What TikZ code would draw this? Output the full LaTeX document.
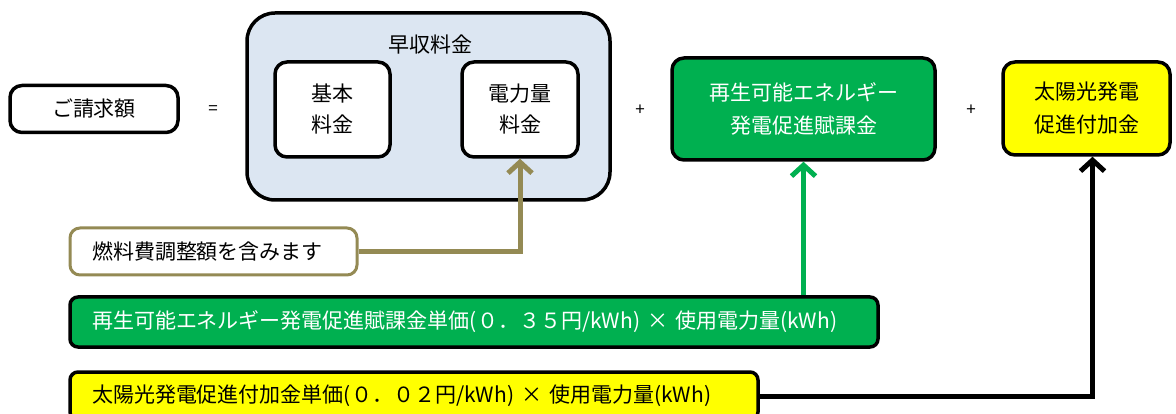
\documentclass[tikz,border=0pt]{standalone}
\usepackage{fontspec}
\setmainfont{Noto Sans CJK JP}
\usetikzlibrary{arrows.meta}
\definecolor{boxblue}{HTML}{DCE6F2}
\definecolor{ggreen}{HTML}{00B050}
\definecolor{olivec}{HTML}{948A54}
\definecolor{yel}{HTML}{FFFF00}
\tikzset{
  x=1pt, y=-1pt,
  box/.style={draw=black, line width=3.5pt, rounded corners=12pt, align=center, inner sep=0pt, fill=white},
  lbl/.style={font=\fontsize{21}{31}\selectfont},
  op/.style={font=\fontsize{17}{17}\selectfont, inner sep=0pt},
  bar/.style={draw=black, line width=3.5pt, rounded corners=8pt, inner xsep=22pt, inner ysep=0pt, align=left, font=\fontsize{21}{22}\selectfont},
  conn/.style={line width=5pt, -{Straight Barb[length=11pt,width=24pt,line width=5pt]}},
}
\begin{document}
\begin{tikzpicture}
\useasboundingbox (0,0) rectangle (1176,414);
\clip (0,0) rectangle (1176,414);
% left
\node[box, lbl, minimum width=168pt, minimum height=47pt] (bill) at (94,109) {ご請求額};
\node[op] (eq) at (213,110) {=};
% big group
\node[box, fill=boxblue, rounded corners=28pt, minimum width=363pt, minimum height=187pt] (group) at (428.5,106.5) {};
\node[lbl, inner sep=0pt] (title) at (430,45) {早収料金};
\node[box, lbl, minimum width=115pt, minimum height=95pt] (kihon) at (332.5,109.5) {基本\\料金};
\node[box, lbl, minimum width=116pt, minimum height=95pt] (denryoku) at (520,109.5) {電力量\\料金};
\node[op] (plus1) at (640,110) {+};
\node[box, lbl, fill=ggreen, text=white, minimum width=263pt, minimum height=102pt, font=\fontsize{21}{33}\selectfont] (renew) at (803.5,109) {再生可能エネルギー\\発電促進賦課金};
\node[op] (plus2) at (971,110) {+};
\node[box, lbl, fill=yel, minimum width=167pt, minimum height=93pt, font=\fontsize{21}{33}\selectfont] (solar) at (1086.5,108.5) {太陽光発電\\促進付加金};
% bottom boxes
\node[draw=olivec, fill=white, line width=3pt, rounded corners=10pt, inner xsep=22pt, inner ysep=0pt, text width=243pt, minimum height=47pt, align=left, font=\fontsize{21}{22}\selectfont] (fuel) at (213.5,251.5) {燃料費調整額を含みます};
\node[bar, fill=ggreen, text=white, text width=764pt, minimum height=50pt] (gbar) at (474,322) {再生可能エネルギー発電促進賦課金単価(０．３５円/kWh) × 使用電力量(kWh)};
\node[bar, fill=yel, text width=644pt, minimum height=48pt] (ybar) at (414,396) {太陽光発電促進付加金単価(０．０２円/kWh) × 使用電力量(kWh)};
% connectors
\draw[conn, draw=olivec] (fuel.east) -| (denryoku.south);
\draw[conn, draw=ggreen] (gbar.north -| renew.south) -- (renew.south);
\draw[conn, draw=black] (ybar.east) -| ([xshift=6pt]solar.south);
\end{tikzpicture}
\end{document}
